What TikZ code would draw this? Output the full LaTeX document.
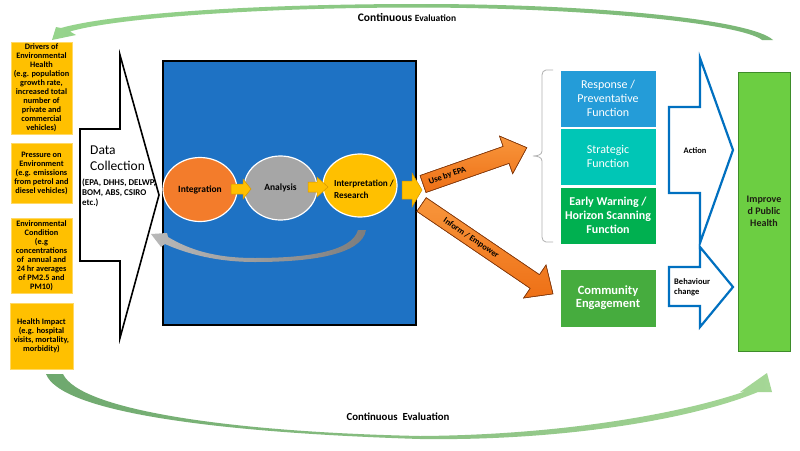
\documentclass[tikz,border=0pt]{standalone}
\usepackage{fontspec}
\setmainfont{Carlito}
\usetikzlibrary{shapes.geometric}
\definecolor{drvyellow}{RGB}{255,192,0}
\definecolor{panelblue}{RGB}{30,114,196}
\definecolor{intorange}{RGB}{243,124,43}
\definecolor{anagray}{RGB}{166,166,166}
\definecolor{respblue}{RGB}{36,156,216}
\definecolor{stratteal}{RGB}{0,198,182}
\definecolor{earlygreen}{RGB}{0,176,80}
\definecolor{commgreen}{RGB}{70,172,62}
\definecolor{impgreen}{RGB}{108,206,66}
\definecolor{impedge}{RGB}{62,140,42}
\definecolor{arrowblue}{RGB}{0,112,192}
\definecolor{orlight}{RGB}{248,150,60}
\definecolor{ordark}{RGB}{238,112,22}
\definecolor{oredge}{RGB}{130,55,10}
\definecolor{smallarrow}{RGB}{255,192,0}
\definecolor{smalledge}{RGB}{215,150,0}
\definecolor{arcA}{RGB}{150,212,140}
\definecolor{arcB}{RGB}{122,182,118}
\definecolor{botL}{RGB}{110,168,110}
\definecolor{botM}{RGB}{78,175,78}
\definecolor{botR}{RGB}{165,215,150}
\definecolor{grayA}{RGB}{185,185,185}
\definecolor{grayB}{RGB}{125,125,125}
\tikzset{
 drvbox/.style={fill=drvyellow, draw=drvyellow!60!white, line width=0.4, minimum width=61, inner sep=0, align=center, font=\fontsize{8.3}{9}\selectfont\bfseries},
 funcbox/.style={draw=white, line width=1, minimum width=96, minimum height=57, inner sep=0, align=center, text=white, font=\fontsize{12}{14}\selectfont},
 stepcircle/.style={ellipse, draw=white, line width=1.2, inner sep=0, font=\fontsize{9.5}{12}\selectfont\bfseries},
 blockblue/.style={draw=arrowblue, line width=2.2, fill=white, line join=miter},
 smallblock/.style={fill=smallarrow, draw=smalledge, line width=0.5},
 bigorange/.style={top color=orlight, bottom color=ordark, draw=oredge, line width=0.5},
 lbl/.style={inner sep=0, font=\fontsize{8.5}{10}\selectfont\bfseries, align=center},
}
\begin{document}
\begin{tikzpicture}[x=1pt,y=-1pt]
\useasboundingbox (0,0) rectangle (800,450);
\fill[white] (0,0) rectangle (800,450);

% top evaluation arc
\shade[left color=arcA, right color=arcB] (773,40) .. controls (752,20) and (600,4) .. (420,4) .. controls (250,4) and (110,14) .. (61,28) -- (56,27) -- (52,40) -- (76,35) -- (70,31.5) .. controls (112,19) and (250,7.5) .. (420,7.5) .. controls (595,8) and (742,24) .. (762,40) -- cycle;
\node[inner sep=0, font=\bfseries] (toptext) at (407,17) {\fontsize{11.5}{12}\selectfont Continuous \fontsize{9.5}{12}\selectfont Evaluation};

% bottom evaluation arc
\shade[left color=botL, middle color=botM, right color=botR] (46,374) .. controls (60,410) and (200,432) .. (420,439) .. controls (560,441) and (690,420) .. (758,392) -- (772,392) -- (767,373) -- (740,392) -- (746,391) .. controls (680,414) and (560,435) .. (420,436) .. controls (230,432) and (80,410) .. (63,374) -- cycle;
\node[inner sep=0, font=\fontsize{10.8}{12}\selectfont\bfseries] (bottext) at (398,417) {Continuous\ \ Evaluation};

% left driver boxes
\node[drvbox, minimum height=92] (drivers) at (41.5,88) {Drivers of\\Environmental\\Health\\(e.g. population\\growth rate,\\increased total\\number of\\private and\\commercial\\vehicles)};
\node[drvbox, minimum height=60] (pressure) at (41.5,173) {Pressure on\\Environment\\(e.g. emissions\\from petrol and\\diesel vehicles)};
\node[drvbox, minimum height=75] (condition) at (41.5,255.5) {Environmental\\Condition\\(e.g\\concentrations\\of\ \ annual and\\24 hr averages\\of PM2.5 and\\PM10)};
\node[drvbox, minimum height=66, minimum width=63] (impact) at (41.5,336) {Health Impact\\(e.g. hospital\\visits, mortality,\\morbidity)};

% data collection arrow
\draw[fill=white, draw=black, line width=1.6, line join=miter] (80,129) -- (120,129) -- (120,55) -- (159,195) -- (120,338) -- (120,261) -- (80,261) -- cycle;
\node[anchor=west, inner sep=0, align=left, font=\fontsize{13.5}{16}\selectfont] (datacol) at (90,158) {Data\\Collection};
\node[anchor=west, inner sep=0, align=left, font=\fontsize{8.9}{10}\selectfont\bfseries] (sources) at (82,193) {(EPA, DHHS, DELWP,\\BOM, ABS, CSIRO\\etc.)};

% central panel
\node[draw=black, line width=1.2, fill=panelblue, minimum width=253, minimum height=264, inner sep=0] (panel) at (289.5,193) {};
\node[stepcircle, fill=intorange, minimum width=74, minimum height=64] (integ) at (200,189.5) {Integration};
\node[stepcircle, fill=anagray, minimum width=73, minimum height=64] (anal) at (280.5,188) {Analysis};
\node[stepcircle, fill=drvyellow, minimum width=74, minimum height=63] (interp) at (360,185.5) {};
\node[inner sep=0, align=left, font=\fontsize{9.2}{12}\selectfont\bfseries] (interptext) at (364,189) {Interpretation /\\Research};
\draw[smallblock] (231,184) -- (243,184) -- (243,179) -- (251,189) -- (243,199) -- (243,194) -- (231,194) -- cycle;
\draw[smallblock] (308,182) -- (317,182) -- (317,177) -- (328,187) -- (317,197) -- (317,192) -- (308,192) -- cycle;
\draw[smallblock] (402,181) -- (412,181) -- (412,173) -- (422,190) -- (412,207) -- (412,199) -- (402,199) -- cycle;

% feedback gray arrow
\shade[left color=grayA, right color=grayB] (366,230) .. controls (362,255) and (310,262) .. (255,262) .. controls (215,262) and (185,253) .. (165,244) -- (161,247) -- (151,234) -- (167,233) -- (168,237) .. controls (190,250) and (215,258) .. (255,258) .. controls (305,258) and (352,252) .. (358,230) -- cycle;

% orange arrows
\begin{scope}[shift={(423,184)}, rotate=19.3]
 \shade[bigorange] (0,-9) -- (88,-9) -- (88,-20) -- (110,0) -- (88,20) -- (88,9) -- (0,9) -- cycle;
 \draw[draw=oredge, line width=0.5] (0,-9) -- (88,-9) -- (88,-20) -- (110,0) -- (88,20) -- (88,9) -- (0,9) -- cycle;
\end{scope}
\node[lbl, rotate=19.3] (usebyepa) at (447.5,175.6) {Use by EPA};
\begin{scope}[shift={(421.5,204.5)}, rotate=-34.2]
 \shade[bigorange] (0,-8.3) -- (137,-8.3) -- (137,-20) -- (159,0) -- (137,20) -- (137,8.3) -- (0,8.3) -- cycle;
 \draw[draw=oredge, line width=0.5] (0,-8.3) -- (137,-8.3) -- (137,-20) -- (159,0) -- (137,20) -- (137,8.3) -- (0,8.3) -- cycle;
\end{scope}
\node[lbl, rotate=-34.2] (inform) at (471.1,238.2) {Inform / Empower};

% brace
\draw[gray!60, line width=0.8] (553,70) -- (546,70) to[out=180,in=90] (542,75) -- (542,151) to[out=270,in=0] (533,156) to[out=0,in=90] (542,161) -- (542,237) to[out=270,in=180] (546,242) -- (553,242);

% function boxes
\node[funcbox, fill=respblue] (resp) at (608,98.5) {Response /\\Preventative\\Function};
\node[funcbox, fill=stratteal] (strat) at (608,156.5) {Strategic\\Function};
\node[funcbox, fill=earlygreen, font=\fontsize{12}{14}\selectfont\bfseries] (early) at (608,215.5) {Early Warning /\\Horizon Scanning\\Function};
\node[funcbox, fill=commgreen, minimum height=58, font=\fontsize{12.5}{13}\selectfont\bfseries] (comm) at (608,298) {Community\\Engagement};

% blue outlined arrows
\draw[blockblue] (669,107) -- (700,107) -- (700,58) -- (733,150) -- (700,243) -- (700,193) -- (669,193) -- cycle;
\node[lbl] (action) at (695,151) {Action};
\draw[blockblue] (669,267) -- (700,267) -- (700,247) -- (733,287) -- (700,327) -- (700,306) -- (669,306) -- cycle;
\node[lbl, anchor=west, align=left] (behav) at (674,287) {Behaviour\\change};

% outcome
\node[fill=impgreen, draw=impedge, line width=1, minimum width=52, minimum height=279, inner sep=0, align=center, text={rgb,255:red,30;green,30;blue,20}, font=\fontsize{10}{12}\selectfont\bfseries] (improved) at (764,211.5) {Improve\\d Public\\Health};
\end{tikzpicture}
\end{document}
